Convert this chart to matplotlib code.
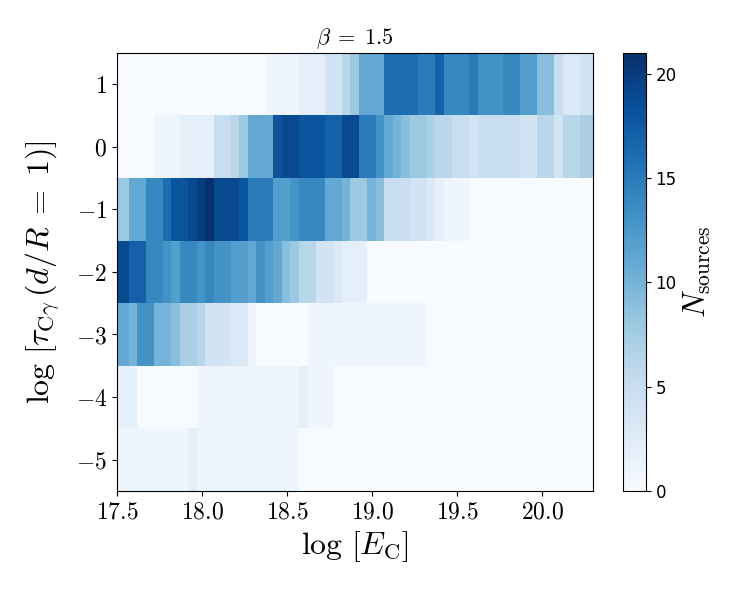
import numpy as np
import matplotlib
matplotlib.use('Agg')
import matplotlib.pyplot as plt
from matplotlib.ticker import FuncFormatter

plt.rcParams['mathtext.fontset'] = 'cm'
plt.rcParams['font.family'] = 'serif'
plt.rcParams['font.serif'] = ['DejaVu Serif']
plt.rcParams['axes.formatter.use_mathtext'] = True

# energy bin edges: 0.05 wide, starting just left of the axis
x_edges = np.round(17.47 + 0.05 * np.arange(58), 3)
y_centres = [-5, -4, -3, -2, -1, 0, 1]

# counts per energy bin, one list per tau row
row_m5 = [1]*9 + [2] + [1]*12 + [0]*35
row_m4 = [2]*3 + [0]*7 + [1]*12 + [2] + [1]*3 + [0]*31
row_m3 = [11, 11, 10, 13, 13, 10, 10, 9, 7, 7, 6, 4, 4, 4, 3, 3, 1] + [0]*6 + [1]*14 + [0]*20
row_m2 = [19, 19, 17, 17, 14, 14, 13, 12, 14, 14, 13, 14, 13, 13, 12, 12, 11, 13, 12, 11,
          9, 8, 6, 6, 4, 4, 3, 2, 2, 2] + [0]*27
row_m1 = [8, 8, 11, 11, 14, 14, 16, 18, 18, 19, 20, 21, 19, 19, 19, 18, 15, 15, 15, 12,
          12, 13, 14, 14, 14, 11, 11, 10, 8, 8, 10, 9, 5, 5, 5, 4, 4, 3, 2, 1, 1, 1] + [0]*15
row_0 = [0]*5 + [1]*3 + [2]*4 + [5, 5, 6, 8, 11, 11, 11, 18, 19, 19, 18, 18, 18, 17, 17,
         19, 19, 15, 15, 13, 11, 10, 9, 8, 8, 7, 6, 6, 5, 5, 4, 5, 5, 5, 5, 5, 4, 4,
         6, 6, 4, 6, 6, 7, 7]
row_1 = [0]*18 + [1]*4 + [2]*3 + [4, 4, 6, 8, 11, 11, 11, 16, 16, 16, 16, 15, 15, 17,
         14, 14, 14, 15, 13, 13, 13, 14, 14, 12, 12, 9, 9, 5, 3, 3, 4, 4]

counts = np.array([row_m5, row_m4, row_m3, row_m2, row_m1, row_0, row_1])
y_edges = np.array(y_centres + [y_centres[-1] + 1]) - 0.5

fig = plt.figure(figsize=(7.5, 6), dpi=100)
ax = fig.add_axes([0.156, 0.182, 0.635, 0.730])
cax = fig.add_axes([0.831, 0.182, 0.030, 0.730])

mesh = ax.pcolormesh(x_edges, y_edges, counts, cmap='Blues', vmin=0, vmax=21)
ax.set_xlim(17.5, 20.3)
ax.set_ylim(-5.5, 1.5)
ax.set_xticks([17.5, 18.0, 18.5, 19.0, 19.5, 20.0])
ax.set_yticks(y_centres)
ax.xaxis.set_major_formatter(FuncFormatter(lambda v, p: r'$%.1f$' % v))
ax.yaxis.set_major_formatter(FuncFormatter(lambda v, p: r'$%d$' % v if v >= 0 else r'$-%d$' % -v))
ax.tick_params(labelsize=17)
ax.set_xlabel(r'$\log\,[E_{\rm C}]$', fontsize=23)
ax.set_ylabel(r'$\log\,[\tau_{{\rm C}\gamma}\,(d/R\;=\;1)]$', fontsize=23, labelpad=10)
ax.set_title(r'$\beta\;=\;1.5$', fontsize=16)

cb = fig.colorbar(mesh, cax=cax)
cb.set_ticks([0, 5, 10, 15, 20])
cb.ax.yaxis.set_major_formatter(FuncFormatter(lambda v, p: '%d' % v))
for t in cb.ax.get_yticklabels():
    t.set_fontfamily('DejaVu Sans')
    t.set_fontsize(12)
cb.set_label(r'$N_{\rm sources}$', fontsize=22)

fig.savefig('out.png', dpi=100)
